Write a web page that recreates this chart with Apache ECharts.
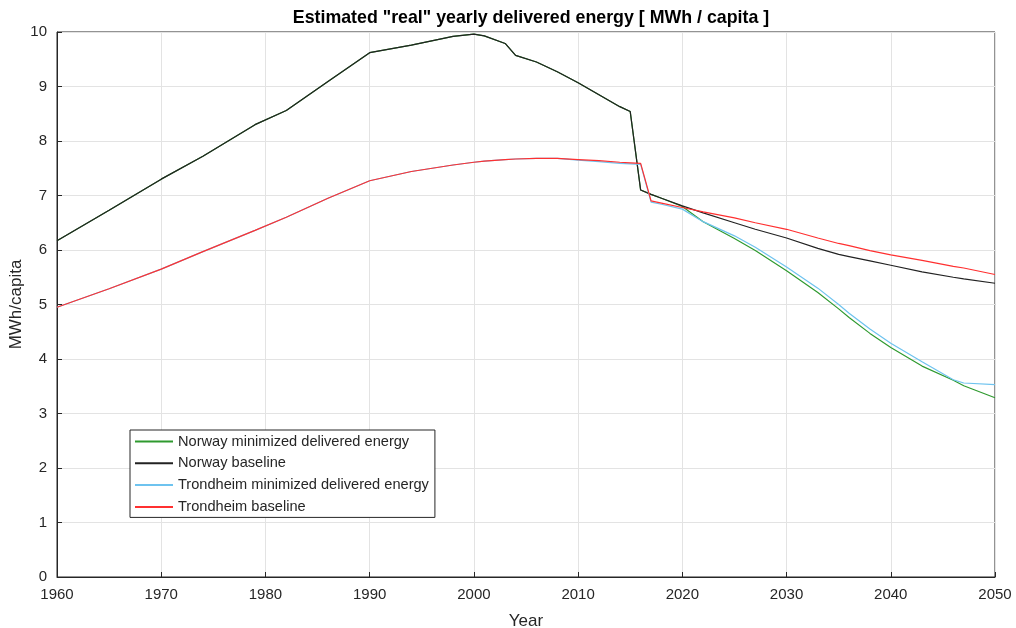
<!DOCTYPE html>
<html>
<head>
<meta charset="utf-8">
<script src="https://cdn.jsdelivr.net/npm/echarts@6/dist/echarts.min.js"></script>
<style>html,body{margin:0;padding:0;background:#fff}#c{width:1016px;height:628px}</style>
</head>
<body>
<div id="c"></div>
<script>
var years = [1960,1965,1970,1974,1979,1982,1986,1990,1994,1998,2000,2001,2003,2004,2006,2008,2010,2012,2014,2015,2016,2017,2018,2020,2022,2025,2027,2030,2033,2035,2036,2038,2040,2043,2046,2047,2050];
var norwayBaseline = [6.17,6.73,7.30,7.72,8.30,8.56,9.09,9.62,9.76,9.92,9.96,9.93,9.79,9.57,9.45,9.27,9.07,8.85,8.63,8.54,7.10,7.02,6.95,6.81,6.68,6.50,6.38,6.22,6.03,5.92,5.88,5.80,5.72,5.60,5.50,5.47,5.39];
var norwayMin = [6.17,6.73,7.30,7.72,8.30,8.56,9.09,9.62,9.76,9.92,9.96,9.93,9.79,9.57,9.45,9.27,9.07,8.85,8.63,8.54,7.10,7.02,6.95,6.80,6.52,6.21,5.99,5.62,5.22,4.92,4.76,4.47,4.21,3.87,3.61,3.51,3.29];
var trondBaseline = [4.95,5.29,5.65,5.97,6.36,6.60,6.95,7.27,7.44,7.56,7.61,7.63,7.66,7.67,7.68,7.68,7.66,7.64,7.61,7.60,7.59,6.90,6.86,6.78,6.70,6.59,6.50,6.38,6.22,6.12,6.08,5.99,5.91,5.81,5.70,5.67,5.55];
var trondMin = [4.95,5.29,5.65,5.97,6.36,6.60,6.95,7.27,7.44,7.56,7.61,7.63,7.66,7.67,7.68,7.68,7.65,7.62,7.59,7.58,7.57,6.88,6.84,6.75,6.52,6.26,6.05,5.69,5.30,5.00,4.84,4.55,4.29,3.95,3.62,3.56,3.53];
var seriesNames = ["Norway minimized delivered energy","Norway baseline","Trondheim minimized delivered energy","Trondheim baseline"];
var xTicks = [1960,1970,1980,1990,2000,2010,2020,2030,2040,2050];

function pairs(v){ return years.map(function(y,i){ return [y, v[i]]; }); }
var font = '"Liberation Sans", Arial, sans-serif';
var chart = echarts.init(document.getElementById('c'));
function mk(name, data, color, z){
  return {name:name, type:'line', data:pairs(data), symbol:'none', showSymbol:false, smooth:false,
    lineStyle:{color:color, width:1.2}, itemStyle:{color:color}, z:z, animation:false};
}
chart.setOption({
  animation:false,
  title:{text:'Estimated "real" yearly delivered energy [ MWh / capita ]', left:526, top:4, textAlign:'center',
    textStyle:{fontFamily:font, fontSize:17.8, fontWeight:'bold', color:'#000'}},
  grid:{left:57, right:21, top:32, bottom:51, containLabel:false, outerBoundsMode:'none',
    show:true, borderColor:'#262626', borderWidth:1, backgroundColor:'#fff'},
  legend:{orient:'vertical', left:130, top:430, padding:[4,6,3,4], itemWidth:38, itemHeight:14, itemGap:6.8,
    borderColor:'#262626', borderWidth:1, backgroundColor:'#fff', align:'left',
    itemStyle:{opacity:0},
    textStyle:{fontFamily:font, fontSize:14.6, color:'#262626'},
    data:seriesNames},
  xAxis:{type:'value', min:1960, max:2050, interval:10, name:'Year', nameLocation:'middle', nameGap:36,
    nameMoveOverlap:false,
    nameTextStyle:{fontFamily:font, fontSize:17, color:'#262626'},
    axisLine:{show:true, lineStyle:{color:'#262626'}},
    axisTick:{show:true, inside:true, length:5, lineStyle:{color:'#262626'}},
    axisLabel:{fontFamily:font, fontSize:15, color:'#262626', margin:10,
      formatter:function(v){ return xTicks.indexOf(v)>=0 ? String(v) : ''; }},
    splitLine:{show:true, lineStyle:{color:'#e3e3e3', width:1}}},
  yAxis:{type:'value', min:0, max:10, interval:1, name:'MWh/capita', nameLocation:'middle', nameGap:32,
    nameMoveOverlap:false,
    nameTextStyle:{fontFamily:font, fontSize:17, color:'#262626'},
    axisLine:{show:true, lineStyle:{color:'#262626'}},
    axisTick:{show:true, inside:true, length:5, lineStyle:{color:'#262626'}},
    axisLabel:{fontFamily:font, fontSize:15, color:'#262626', margin:10},
    splitLine:{show:true, lineStyle:{color:'#e3e3e3', width:1}}},
  series:[
    mk(seriesNames[0], norwayMin, '#2f9a2f', 2),
    mk(seriesNames[1], norwayBaseline, '#222222', 3),
    mk(seriesNames[2], trondMin, '#6ec3ef', 4),
    mk(seriesNames[3], trondBaseline, '#ff3030', 5)
  ]
});
</script>
</body>
</html>
